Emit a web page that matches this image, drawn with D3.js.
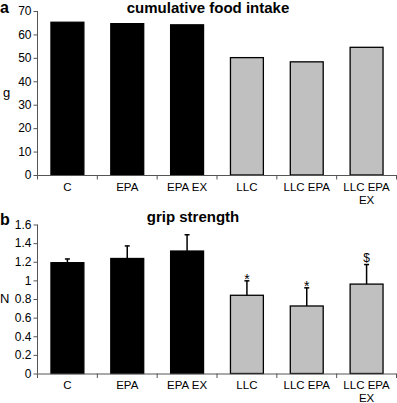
<!DOCTYPE html>
<html>
<head>
<meta charset="utf-8">
<script src="https://cdn.jsdelivr.net/npm/d3@7"></script>
<style>
body { margin: 0; background: #fff; }
svg { font-family: "Liberation Sans", Arial, sans-serif; }
</style>
</head>
<body>
<div id="chart"></div>
<script>
// data
var groups = ["C", "EPA", "EPA EX", "LLC", "LLC EPA", "LLC EPA EX"];
var isTumour = [false, false, false, true, true, true];
var foodIntake = [65.2, 64.6, 64.1, 50.1, 48.3, 54.5];
var gripMean = [1.19, 1.235, 1.315, 0.84, 0.725, 0.96];
var gripErr = [0.04, 0.135, 0.175, 0.155, 0.195, 0.21];
var gripMarks = ["", "", "", "*", "*", "$"];
var foodTicks = [0, 10, 20, 30, 40, 50, 60, 70];
var gripTicks = [0, 0.2, 0.4, 0.6, 0.8, 1, 1.2, 1.4, 1.6];

var W = 397, H = 403;
var svg = d3.select("#chart").append("svg").attr("width", W).attr("height", H);

function panel(opt) {
  var x = d3.scaleBand().domain(groups).range([37.5, 396.5]).paddingInner(0.45).paddingOuter(0.225);
  var y = d3.scaleLinear().domain([0, opt.max]).range([opt.bottom, opt.top]);
  var g = svg.append("g");

  // bars
  g.selectAll("rect.bar").data(opt.values).enter().append("rect")
    .attr("class", "bar")
    .attr("x", (d, i) => x(groups[i]))
    .attr("y", d => y(d))
    .attr("width", x.bandwidth())
    .attr("height", d => y(0) - y(d))
    .attr("fill", (d, i) => isTumour[i] ? "#c0c0c0" : "#000")
    .attr("stroke", "#000").attr("stroke-width", 1.3);

  // error bars, upper half only
  if (opt.err) {
    var eg = g.selectAll("g.err").data(opt.values).enter().append("g").attr("class", "err");
    eg.append("line")
      .attr("x1", (d, i) => x(groups[i]) + x.bandwidth() / 2)
      .attr("x2", (d, i) => x(groups[i]) + x.bandwidth() / 2)
      .attr("y1", d => y(d))
      .attr("y2", (d, i) => y(d + opt.err[i]))
      .attr("stroke", "#000").attr("stroke-width", 1.5);
    eg.append("line")
      .attr("x1", (d, i) => x(groups[i]) + x.bandwidth() / 2 - 2.5)
      .attr("x2", (d, i) => x(groups[i]) + x.bandwidth() / 2 + 2.5)
      .attr("y1", (d, i) => y(d + opt.err[i]))
      .attr("y2", (d, i) => y(d + opt.err[i]))
      .attr("stroke", "#000").attr("stroke-width", 1.5);
    eg.append("text")
      .attr("x", (d, i) => x(groups[i]) + x.bandwidth() / 2)
      .attr("y", (d, i) => y(d + opt.err[i]) - (opt.marks[i] == "$" ? 3 : -3.5))
      .attr("text-anchor", "middle")
      .attr("fill", "#000")
      .style("font-size", (d, i) => opt.marks[i] == "$" ? "12px" : "14px")
      .text((d, i) => opt.marks[i]);
  }

  // y axis
  var ya = g.append("g").attr("transform", "translate(37.5,0)")
    .call(d3.axisLeft(y).tickValues(opt.ticks).tickSize(4).tickPadding(2).tickFormat(d => String(d)));
  ya.select(".domain").attr("stroke", "#555").attr("d", "M0," + opt.top + "V" + opt.bottom);
  ya.selectAll(".tick line").attr("stroke", "#555");
  ya.selectAll("text").style("font-size", "12px").attr("fill", "#000");

  // x axis, ticks at category boundaries
  var bounds = d3.range(groups.length + 1).map(i => 37.5 + i * (359 / groups.length));
  g.append("line").attr("x1", 37.5).attr("x2", 396.5).attr("y1", opt.bottom + 0.5).attr("y2", opt.bottom + 0.5)
    .attr("stroke", "#555");
  g.selectAll("line.xt").data(bounds).enter().append("line").attr("class", "xt")
    .attr("x1", d => d).attr("x2", d => d)
    .attr("y1", opt.bottom).attr("y2", opt.bottom + 4.5)
    .attr("stroke", "#555");
  var lab = g.selectAll("text.xl").data(groups).enter().append("text").attr("class", "xl")
    .attr("x", d => x(d) + x.bandwidth() / 2)
    .attr("y", opt.bottom + 15.5)
    .attr("text-anchor", "middle")
    .style("font-size", "11.5px");
  lab.each(function (d) {
    var t = d3.select(this);
    if (d == "LLC EPA EX") {
      t.append("tspan").attr("x", x(d) + x.bandwidth() / 2).text("LLC EPA");
      t.append("tspan").attr("x", x(d) + x.bandwidth() / 2).attr("dy", 13).text("EX");
    } else t.text(d);
  });

  // titles and labels
  g.append("text").attr("x", opt.titleX).attr("y", opt.titleY).attr("text-anchor", "middle")
    .style("font-size", "15px").style("font-weight", "bold").text(opt.title);
  g.append("text").attr("x", 0).attr("y", opt.letterY).style("font-size", "16px").style("font-weight", "bold")
    .text(opt.letter);
  g.append("text").attr("x", opt.unitX).attr("y", (opt.top + opt.bottom) / 2 + 4).style("font-size", "13px")
    .text(opt.unit);
}

panel({ values: foodIntake, max: 70, ticks: foodTicks, top: 11, bottom: 175,
        title: "cumulative food intake", titleX: 208, titleY: 13, letter: "a", letterY: 12.5, unit: "g", unitX: 3 });
panel({ values: gripMean, err: gripErr, marks: gripMarks, max: 1.6, ticks: gripTicks, top: 224.5, bottom: 373.5,
        title: "grip strength", titleX: 193, titleY: 222, letter: "b", letterY: 225, unit: "N", unitX: 0 });
</script>
</body>
</html>
